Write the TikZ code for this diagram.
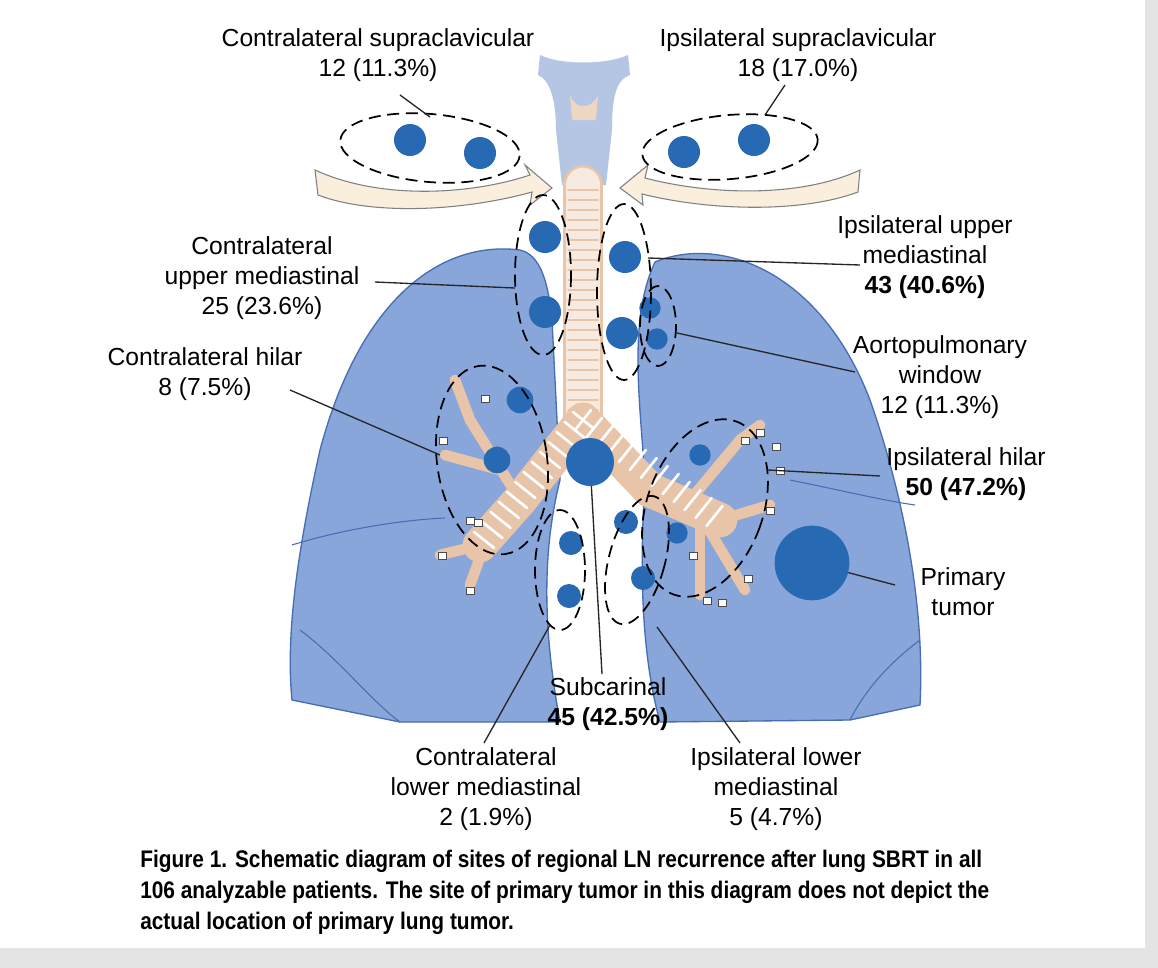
\documentclass[tikz,border=0pt]{standalone}
\usetikzlibrary{calc}
\usepackage{fontspec}
\setmainfont{Liberation Sans}
\newfontfamily\capfont{Liberation Sans}[FakeStretch=0.87]
\begin{document}
\begin{tikzpicture}[x=0.75pt,y=-0.75pt,
  lab/.style={align=center,font=\fontsize{18.5}{22.5}\selectfont,inner sep=1pt},
  ln/.style={circle,fill=nodeb,inner sep=0pt},
  grp/.style={draw=black,line width=1.3pt,dash pattern=on 9pt off 5pt},
  lead/.style={draw=black!85,line width=1pt}]
\definecolor{lungf}{RGB}{137,166,218}
\definecolor{lungd}{RGB}{70,110,180}
\definecolor{nodeb}{RGB}{40,105,180}
\definecolor{peach}{RGB}{232,196,168}
\definecolor{bone}{RGB}{250,238,220}
\definecolor{headc}{RGB}{180,198,228}
\definecolor{bord}{RGB}{228,228,228}
\useasboundingbox (0,0) rectangle (1158,968);
\fill[white] (0,0) rectangle (1158,968);
\fill[bord] (1145,0) rectangle (1158,968);
\fill[bord] (0,948) rectangle (1158,968);
% head / larynx
\fill[headc] (540,55) .. controls (560,65) and (606,65) .. (628,55) -- (630,75) .. controls (615,80) and (612,100) .. (612,130) -- (606,185) -- (562,185) -- (556,130) .. controls (556,100) and (550,80) .. (538,75) -- cycle;
\fill[peach!70] (570,95) .. controls (575,110) and (592,110) .. (598,95) -- (596,120) -- (572,120) -- cycle;
% collarbones
\filldraw[fill=bone,draw=black!50,line width=0.8pt] (315,170) .. controls (380,200) and (470,195) .. (530,175) -- (525,165) -- (552,188) -- (530,205) -- (532,192) .. controls (460,212) and (370,215) .. (318,195) -- cycle;
\filldraw[fill=bone,draw=black!50,line width=0.8pt] (860,170) .. controls (800,198) and (710,195) .. (645,178) -- (648,165) -- (620,188) -- (643,205) -- (642,194) .. controls (715,212) and (805,212) .. (858,192) -- cycle;
% lungs
\filldraw[fill=lungf,draw=lungd,line width=1pt] (520,250) .. controls (440,240) and (360,300) .. (320,450) .. controls (300,540) and (285,630) .. (292,700) -- (400,722) -- (560,722) .. controls (545,640) and (540,560) .. (560,480) -- (552,320) .. controls (548,280) and (540,255) .. (520,250) -- cycle;
\draw[lungd,line width=0.8pt] (292,545) .. controls (340,530) and (400,520) .. (445,518);
\draw[lungd,line width=0.8pt] (300,630) .. controls (340,660) and (370,700) .. (400,722);
\filldraw[fill=lungf,draw=lungd,line width=1pt] (655,262) .. controls (720,235) and (820,270) .. (870,400) .. controls (905,500) and (925,610) .. (920,705) -- (850,720) -- (660,722) .. controls (640,650) and (640,560) .. (645,480) .. controls (640,400) and (628,320) .. (655,262) -- cycle;
\draw[lungd,line width=0.8pt] (790,480) .. controls (840,490) and (880,500) .. (915,505);
\draw[lungd,line width=0.8pt] (920,640) .. controls (880,670) and (860,700) .. (850,720);
% trachea and bronchi
\begin{scope}[line cap=round]
\draw[peach,line width=30] (583,185) -- (583,420);
\draw[peach!35,line width=26] (583,185) -- (583,420);
\foreach \y in {190,200,...,420} \draw[peach,line width=1.4pt] (568,\y) -- (598,\y);
\draw[peach,line width=26] (583,420) -- (520,500) -- (480,545);
\draw[peach,line width=26] (583,420) -- (650,490) -- (720,520);
\draw[peach,line width=8] (520,500) -- (470,420) -- (455,380);
\draw[peach,line width=8] (500,470) -- (445,455);
\draw[peach,line width=8] (480,545) -- (440,555);
\draw[peach,line width=8] (490,530) -- (470,585);
\draw[peach,line width=8] (690,500) -- (740,440) -- (760,425);
\draw[peach,line width=8] (720,520) -- (770,505);
\draw[peach,line width=8] (700,515) -- (745,590);
\draw[peach,line width=8] (700,515) -- (700,595);
\foreach \t in {0,0.08,...,1} {
  \draw[white,line width=2pt] ($(583,420)!\t!(480,545)+(-10,-8)$) -- ($(583,420)!\t!(480,545)+(10,8)$);
  \draw[white,line width=2pt] ($(583,420)!\t!(720,520)+(8,-10)$) -- ($(583,420)!\t!(720,520)+(-8,10)$);
}
\end{scope}
\foreach \p in {(485,398),(443,440),(470,520),(478,522),(442,555),(470,590),(760,432),(776,446),(780,470),(770,510),(748,578),(707,600),(722,602),(693,555),(745,440)}
  \draw[fill=white,draw=black!70,line width=0.6pt] \p ++(-4,-3) rectangle ++(8,7);
% lymph nodes
\node[ln,minimum size=24] (s1) at (410,140) {};
\node[ln,minimum size=24] (s2) at (480,153) {};
\node[ln,minimum size=24] (s3) at (684,152) {};
\node[ln,minimum size=24] (s4) at (754,140) {};
\node[ln,minimum size=24] (u1) at (545,237) {};
\node[ln,minimum size=24] (u2) at (545,312) {};
\node[ln,minimum size=24] (u3) at (625,257) {};
\node[ln,minimum size=24] (u4) at (622,333) {};
\node[ln,minimum size=16] (a1) at (650,308) {};
\node[ln,minimum size=16] (a2) at (657,339) {};
\node[ln,minimum size=20] (h1) at (520,400) {};
\node[ln,minimum size=20] (h2) at (497,460) {};
\node[ln,minimum size=36] (sc) at (590,462) {};
\node[ln,minimum size=16] (h3) at (700,455) {};
\node[ln,minimum size=16] (h4) at (677,533) {};
\node[ln,minimum size=18] (l1) at (571,543) {};
\node[ln,minimum size=18] (l2) at (569,596) {};
\node[ln,minimum size=18] (l3) at (626,522) {};
\node[ln,minimum size=18] (l4) at (643,578) {};
\node[ln,minimum size=56] (pt) at (812,563) {};
% dashed groups
\draw[grp,rotate around={-5:(430,148)}] (430,148) ellipse [x radius=90,y radius=34];
\draw[grp,rotate around={5:(730,147)}] (730,147) ellipse [x radius=88,y radius=32];
\draw[grp] (543,275) ellipse [x radius=28,y radius=80];
\draw[grp] (624,292) ellipse [x radius=27,y radius=88];
\draw[grp] (658,326) ellipse [x radius=18,y radius=40];
\draw[grp,rotate around={8:(492,460)}] (492,460) ellipse [x radius=55,y radius=95];
\draw[grp,rotate around={-20:(705,508)}] (705,508) ellipse [x radius=58,y radius=92];
\draw[grp] (560,570) ellipse [x radius=25,y radius=60];
\draw[grp,rotate around={-15:(637,560)}] (637,560) ellipse [x radius=28,y radius=66];
% labels
\node[lab] (Lsc) at (378,55) {Contralateral supraclavicular\\12 (11.3\%)};
\node[lab] (Rsc) at (798,55) {Ipsilateral supraclavicular\\18 (17.0\%)};
\node[lab] (Lum) at (262,278) {Contralateral\\upper mediastinal\\25 (23.6\%)};
\node[lab] (Rum) at (925,257) {Ipsilateral upper\\mediastinal\\\textbf{43 (40.6\%)}};
\node[lab] (Lh) at (205,374) {Contralateral hilar\\8 (7.5\%)};
\node[lab] (Ap) at (940,377) {Aortopulmonary\\window\\12 (11.3\%)};
\node[lab] (Rh) at (966,474) {Ipsilateral hilar\\\textbf{50 (47.2\%)}};
\node[lab] (Pt) at (963,592) {Primary\\tumor};
\node[lab] (Sc) at (608,704) {Subcarinal\\\textbf{45 (42.5\%)}};
\node[lab] (Ll) at (486,789) {Contralateral\\lower mediastinal\\2 (1.9\%)};
\node[lab] (Rl) at (776,789) {Ipsilateral lower\\mediastinal\\5 (4.7\%)};
\coordinate (e1) at (430,117); \coordinate (e2) at (765,115);
\coordinate (e3) at (515,288); \coordinate (e4) at (648,258);
\coordinate (e5) at (440,455); \coordinate (e6) at (677,333);
\coordinate (e7) at (768,470); \coordinate (e8) at (550,625);
\coordinate (e9) at (657,627);
\draw[lead] (400,95) -- (e1);
\draw[lead] (785,85) -- (e2);
\draw[lead] (375,282) -- (e3);
\draw[lead] (860,265) -- (e4);
\draw[lead] (290,390) -- (e5);
\draw[lead] (855,372) -- (e6);
\draw[lead] (880,476) -- (e7);
\draw[lead] (895,585) -- (pt);
\draw[lead] (602,674) -- (sc);
\draw[lead] (484,743) -- (e8);
\draw[lead] (740,743) -- (e9);
% caption
\node[anchor=north west,align=left,inner sep=0pt,font=\capfont\bfseries\fontsize{18}{23}\selectfont] (cap) at (140,850)
 {Figure 1. Schematic diagram of sites of regional LN recurrence after lung SBRT in all\\
 106 analyzable patients. The site of primary tumor in this diagram does not depict the\\
 actual location of primary lung tumor.};
\end{tikzpicture}
\end{document}
